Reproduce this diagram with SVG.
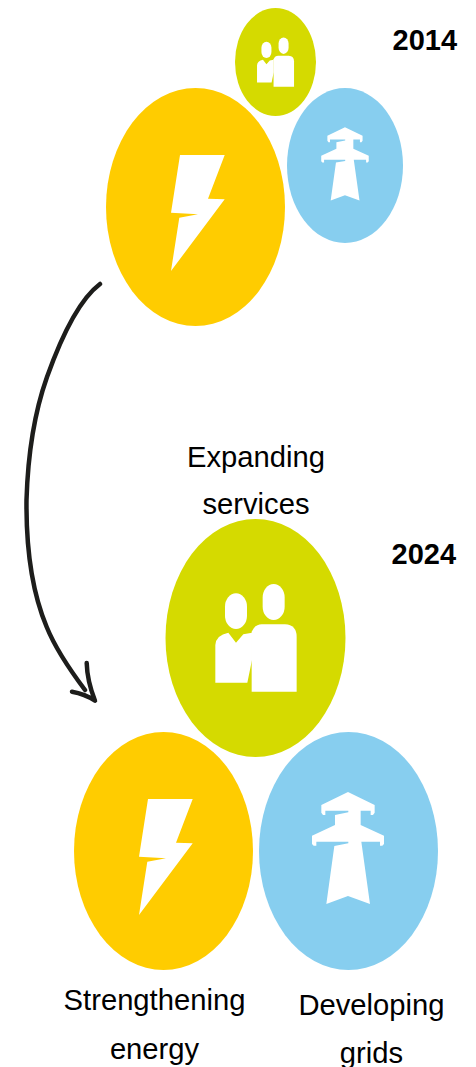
<svg xmlns="http://www.w3.org/2000/svg" xmlns:xlink="http://www.w3.org/1999/xlink" width="476" height="1067" viewBox="0 0 476 1067">
<style>
.o{fill:#ffcc00}.b{fill:#87ceef}.g{fill:#d5da00}.i{fill:#fff}
text{font-family:"Liberation Sans",Arial,sans-serif;fill:#000}
.l{font-size:29.200px;text-anchor:middle}.y{font-size:29px;font-weight:bold}
.a{fill:none;stroke:#1d1d1b;stroke-width:4.500;stroke-linecap:round;stroke-linejoin:round}
</style>
<defs>
<path id="bolt" class="i" d="M148 799H192.700L176 842.700 192.700 843.300 139 915 147.300 861.700 166 858.300 139 856.700Z"/>
<path id="tower" class="i" d="M174 36L254 75V98L249 105H242V92H212V135L282 167V192L277 197H270V185H214L240 372 174 348 109 372 133 198 175 190V185H79V197H71L66 192V167L135 135V105L175 97V92H106V105H99L94 98V75Z"/>
<g id="people" class="i">
<rect x="218" y="42" width="66" height="108" rx="33" ry="40"/>
<rect x="105" y="70" width="66" height="107" rx="33" ry="40"/>
<path d="M185 365V185Q195 163 215 163H285Q320 165 320 200V365Z"/>
<path d="M76 338V225Q78 195 115 188L138 218 160 193 186 188V270L172 338Z"/>
</g>
</defs>
<g id="connectors">
<path class="a" d="M100 284C80 299 62 335 47 377 36 408 28 450 26.500 500 26 550 32 592 46.700 627 56 650 70 670 85 690"/>
<path class="a" d="M86.700 663C87 675 90 688 95 700.700 88 696 80 693 72 691.700"/>
</g>
<g id="node-2014-energy"><ellipse class="o" cx="195.500" cy="207" rx="89.500" ry="119"/><use href="#bolt" xlink:href="#bolt" transform="translate(32 -644)"/></g>
<g id="node-2014-grids"><ellipse class="b" cx="345" cy="165.500" rx="58" ry="77.500"/><use href="#tower" xlink:href="#tower" transform="translate(306.700 119.400) scale(.22 .2183)"/></g>
<g id="node-2014-services"><ellipse class="g" cx="275.500" cy="62" rx="40.500" ry="54"/><use href="#people" xlink:href="#people" transform="translate(245.500 31) scale(.1517 .1525)"/></g>
<g id="node-2024-services"><ellipse class="g" cx="255.500" cy="638" rx="90" ry="119"/><use href="#people" xlink:href="#people" transform="translate(190 570) scale(.3333)"/></g>
<g id="node-2024-energy"><ellipse class="o" cx="163.500" cy="851" rx="89.500" ry="119"/><use href="#bolt" xlink:href="#bolt"/></g>
<g id="node-2024-grids"><ellipse class="b" cx="348.500" cy="851" rx="89.500" ry="119"/><use href="#tower" xlink:href="#tower" transform="translate(290 780) scale(.3333)"/></g>
<g id="labels">
<text class="y" x="392.500" y="50">2014</text>
<text class="y" x="391.500" y="564">2024</text>
<text class="l" x="256" y="467">Expanding</text>
<text class="l" x="256" y="514">services</text>
<text class="l" x="154.500" y="1010">Strengthening</text>
<text class="l" x="154.500" y="1059">energy</text>
<text class="l" x="371.500" y="1015">Developing</text>
<text class="l" x="371.500" y="1063">grids</text>
</g>
</svg>
